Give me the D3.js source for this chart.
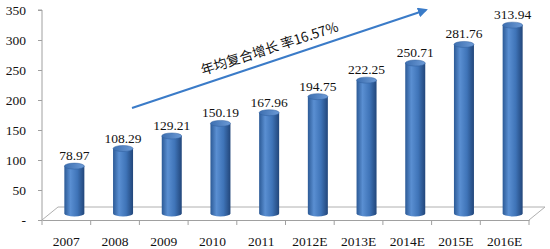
<!DOCTYPE html>
<html>
<head>
<meta charset="utf-8">
<script src="https://cdn.jsdelivr.net/npm/d3@7"></script>
<style>
  body { margin: 0; background: #fff; }
  svg text { font-family: "Liberation Serif", "Times New Roman", serif; fill: #111; }
</style>
</head>
<body>
<div id="chart"></div>
<script>
// données du graphique
const categories = ["2007", "2008", "2009", "2010", "2011", "2012E", "2013E", "2014E", "2015E", "2016E"];
const values = [78.97, 108.29, 129.21, 150.19, 167.96, 194.75, 222.25, 250.71, 281.76, 313.94];
const yTicks = [0, 50, 100, 150, 200, 250, 300, 350];
const cagrLabel = "年均复合增长 率16.57%";

function drawChart() {
    const width = 550, height = 249;
    const depthX = 16, depthY = 13; // profondeur du plancher 3D

    const svg = d3.select("#chart")
        .append("svg")
        .attr("width", width)
        .attr("height", height);

    const xScale = d3.scaleBand()
        .domain(categories)
        .range([42, 529])
        .padding(0);

    const yScale = d3.scaleLinear()
        .domain([0, 350])
        .range([220, 10]);

    // dégradé pour les cylindres
    const defs = svg.append("defs");
    const grad = defs.append("linearGradient").attr("id", "cyl").attr("x1", "0").attr("x2", "1");
    grad.append("stop").attr("offset", "0%").attr("stop-color", "#2c5a96");
    grad.append("stop").attr("offset", "30%").attr("stop-color", "#5a8fd2");
    grad.append("stop").attr("offset", "65%").attr("stop-color", "#3f74b8");
    grad.append("stop").attr("offset", "100%").attr("stop-color", "#22467a");
    const gradTop = defs.append("linearGradient").attr("id", "cylTop").attr("x1", "0").attr("x2", "1");
    gradTop.append("stop").attr("offset", "0%").attr("stop-color", "#3d6fb0");
    gradTop.append("stop").attr("offset", "100%").attr("stop-color", "#6c9ad6");

    const y0 = yScale(0);
    const x0 = xScale.range()[0], x1 = xScale.range()[1];

    // plancher 3D
    svg.append("path")
        .attr("d", `M${x0},${y0} L${x0 + depthX},${y0 - depthY} L${x1 + depthX},${y0 - depthY} L${x1},${y0}`)
        .attr("fill", "none")
        .attr("stroke", "#b0b0b0")
        .attr("stroke-width", 1);

    // axe des x
    const xAxis = svg.append("g")
        .attr("transform", `translate(0,${y0})`)
        .call(d3.axisBottom(xScale).tickSize(0).tickPadding(16));
    xAxis.select(".domain").attr("stroke", "#a0a0a0");
    xAxis.selectAll("text").style("font-size", "13.5px").attr("fill", "#111");
    xAxis.selectAll(".sep")
        .data(categories.concat(["end"]))
        .enter().append("line")
        .attr("class", "sep")
        .attr("x1", (d, i) => x0 + i * xScale.bandwidth())
        .attr("x2", (d, i) => x0 + i * xScale.bandwidth())
        .attr("y1", 0)
        .attr("y2", 5)
        .attr("stroke", "#a0a0a0");

    // axe des y
    const yAxis = svg.append("g")
        .attr("transform", `translate(${x0},0)`)
        .call(d3.axisLeft(yScale).tickValues(yTicks).tickSize(4).tickPadding(12)
            .tickFormat(d => d === 0 ? "-" : d));
    yAxis.select(".domain").attr("stroke", "#a0a0a0").attr("d", `M-4,${yScale(350)}H0V${y0}`);
    yAxis.selectAll("line").attr("stroke", "#a0a0a0");
    yAxis.selectAll("text").style("font-size", "13.5px").attr("fill", "#111");

    // cylindres
    const bw = 20, ry = 3;
    const cx = d => xScale(d.cat) + xScale.bandwidth() / 2 + depthX / 2;
    const base = y0 - depthY / 2;
    const top = d => base - (y0 - yScale(d.value));
    const data = categories.map((c, i) => ({ cat: c, value: values[i] }));

    const bars = svg.selectAll(".bar").data(data).enter().append("g").attr("class", "bar");
    bars.append("ellipse")
        .attr("cx", cx).attr("cy", base)
        .attr("rx", bw / 2).attr("ry", ry)
        .attr("fill", "url(#cyl)");
    bars.append("rect")
        .attr("x", d => cx(d) - bw / 2)
        .attr("y", top)
        .attr("width", bw)
        .attr("height", d => base - top(d))
        .attr("fill", "url(#cyl)");
    bars.append("ellipse")
        .attr("cx", cx).attr("cy", top)
        .attr("rx", bw / 2).attr("ry", ry)
        .attr("fill", "url(#cylTop)")
        .attr("stroke", "#2f5f9e")
        .attr("stroke-width", 0.5);

    // étiquettes de valeur
    svg.selectAll(".val").data(data).enter().append("text")
        .attr("class", "val")
        .attr("x", cx)
        .attr("y", d => top(d) - 6)
        .attr("text-anchor", "middle")
        .style("font-size", "13.5px")
        .text(d => d.value.toFixed(2));

    // flèche de croissance
    defs.append("marker")
        .attr("id", "arrow")
        .attr("viewBox", "0 0 10 10")
        .attr("refX", 8).attr("refY", 5)
        .attr("markerWidth", 5).attr("markerHeight", 5)
        .attr("orient", "auto")
        .append("path")
        .attr("d", "M0,0 L10,5 L0,10 Z")
        .attr("fill", "#3a7bc8");
    svg.append("line")
        .attr("x1", 132).attr("y1", 108)
        .attr("x2", 426).attr("y2", 10)
        .attr("stroke", "#3a7bc8")
        .attr("stroke-width", 2)
        .attr("marker-end", "url(#arrow)");

    svg.append("text")
        .attr("transform", "translate(271,53) rotate(-18)")
        .attr("text-anchor", "middle")
        .style("font-family", "'Noto Sans CJK SC', serif")
        .style("font-size", "13.5px")
        .attr("fill", "#333")
        .text(cagrLabel);
}

document.addEventListener("DOMContentLoaded", drawChart);
</script>
</body>
</html>
